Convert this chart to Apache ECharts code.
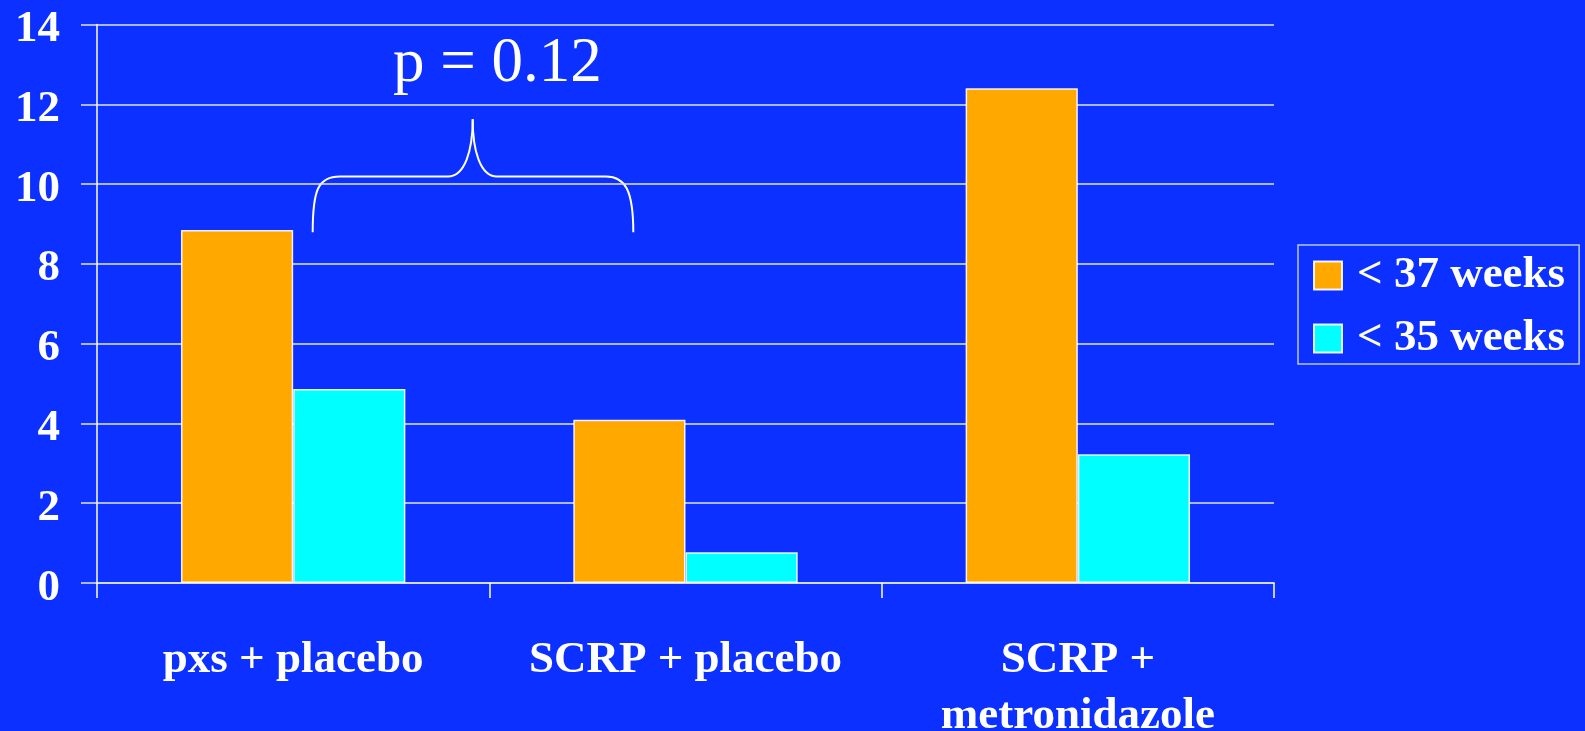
<!DOCTYPE html>
<html>
<head>
<meta charset="utf-8">
<script src="https://cdn.jsdelivr.net/npm/echarts@6/dist/echarts.min.js"></script>
<style>
  html, body { margin: 0; padding: 0; background: #0b30ff; }
  #chart { width: 1585px; height: 731px; }
</style>
</head>
<body>
<div id="chart"></div>
<script>
  // data
  const categories = ['pxs + placebo', 'SCRP + placebo', 'SCRP +\nmetronidazole'];
  const seriesNames = ['< 37 weeks', '< 35 weeks'];
  const under37 = [8.85, 4.09, 12.4];
  const under35 = [4.86, 0.77, 3.23];
  const pLabel = 'p = 0.12';

  const serif = "'Liberation Serif', 'Times New Roman', serif";
  const gridColor = 'rgba(225,230,255,0.75)';
  const braceStyle = { stroke: '#fff', lineWidth: 2, fill: 'none' };

  // brace drawn from curve + line pieces
  function curve(x1, y1, cx1, cy1, cx2, cy2, x2, y2) {
    return {
      type: 'bezierCurve',
      shape: { x1: x1, y1: y1, cpx1: cx1, cpy1: cy1, cpx2: cx2, cpy2: cy2, x2: x2, y2: y2 },
      style: braceStyle,
    };
  }
  function seg(x1, y1, x2, y2) {
    return { type: 'line', shape: { x1: x1, y1: y1, x2: x2, y2: y2 }, style: braceStyle };
  }

  const chart = echarts.init(document.getElementById('chart'));
  chart.setOption({
    backgroundColor: '#0b30ff',
    animation: false,
    grid: {
      left: 97,
      right: 311,
      top: 24.5,
      bottom: 148,
      outerBoundsMode: 'none',
    },
    legend: {
      orient: 'vertical',
      left: 1298,
      top: 245,
      padding: [8, 14, 3, 15],
      icon: 'rect',
      itemWidth: 28,
      itemHeight: 28,
      itemGap: 18,
      borderColor: 'rgba(230,235,255,0.8)',
      borderWidth: 1.5,
      textStyle: {
        color: '#fff',
        fontFamily: serif,
        fontWeight: 'bold',
        fontSize: 45,
        padding: [0, 0, 0, 10],
      },
      data: seriesNames,
    },
    xAxis: {
      type: 'category',
      data: categories,
      axisLine: { lineStyle: { color: gridColor, width: 2 } },
      axisTick: { show: true, interval: 0, length: 15, lineStyle: { color: '#fff', width: 1.5 } },
      axisLabel: {
        interval: 0,
        color: '#fff',
        fontFamily: serif,
        fontWeight: 'bold',
        fontSize: 45,
        lineHeight: 56,
        margin: 49,
      },
    },
    yAxis: {
      type: 'value',
      min: 0,
      max: 14,
      interval: 2,
      axisLine: { show: true, lineStyle: { color: '#fff', width: 1.5 } },
      axisTick: { show: true, length: 16, lineStyle: { color: gridColor, width: 2 } },
      splitLine: { lineStyle: { color: gridColor, width: 2 } },
      axisLabel: {
        color: '#fff',
        fontFamily: serif,
        fontWeight: 'bold',
        fontSize: 45,
        margin: 37,
        verticalAlign: 'top',
        lineHeight: 10,
      },
    },
    series: [
      {
        name: seriesNames[0],
        type: 'bar',
        data: under37,
        barWidth: '28.6%',
        barGap: '0%',
        itemStyle: { color: '#ffa800', borderColor: 'rgba(255,255,255,0.9)', borderWidth: 1.5 },
      },
      {
        name: seriesNames[1],
        type: 'bar',
        data: under35,
        barWidth: '28.6%',
        barGap: '0%',
        itemStyle: { color: '#00ffff', borderColor: 'rgba(255,255,255,0.9)', borderWidth: 1.5 },
      },
    ],
    graphic: [
      {
        type: 'text',
        x: 393,
        y: 64.7,
        style: {
          text: pLabel,
          fill: '#fff',
          font: '63px ' + serif,
          verticalAlign: 'middle',
        },
      },
      curve(312.7, 232.3, 312.7, 190, 318, 176.5, 340, 176.5),
      seg(340, 176.5, 448, 176.5),
      curve(448, 176.5, 465, 176.5, 472.7, 150, 472.7, 119.3),
      curve(472.7, 119.3, 472.7, 150, 480, 176.5, 497, 176.5),
      seg(497, 176.5, 606, 176.5),
      curve(606, 176.5, 625, 176.5, 633.3, 190, 633.3, 232.3),
    ],
  });
</script>
</body>
</html>
